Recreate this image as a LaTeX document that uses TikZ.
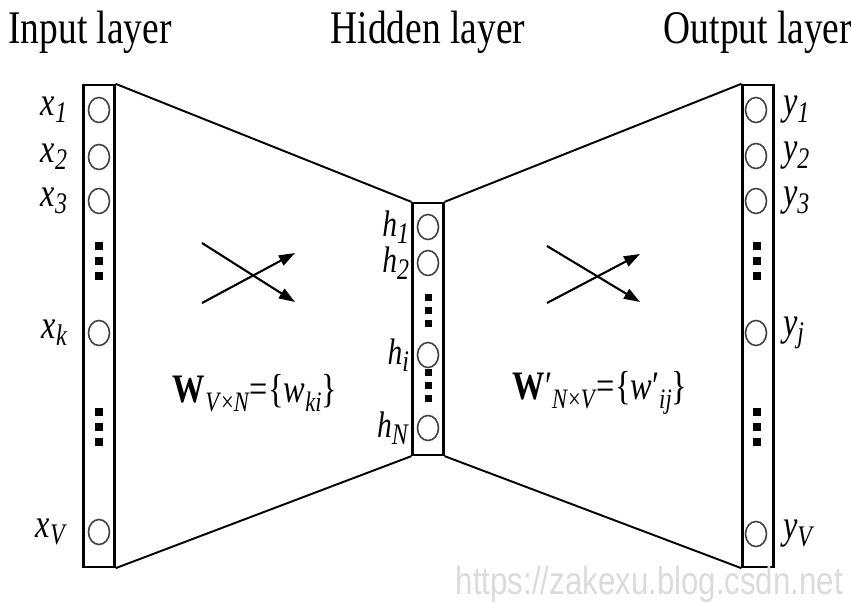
\documentclass[tikz,border=0pt]{standalone}
\usepackage{fontspec}
\setmainfont{Liberation Serif}[FakeStretch=0.8]
\newfontfamily\wmfont{Liberation Sans}[FakeStretch=0.8]
\usetikzlibrary{arrows.meta, positioning, shapes.geometric}

% italic letter with a lowered index
\newcommand{\nodelbl}[2]{\textit{#1}\raisebox{-0.4ex}{\fontsize{8.5}{9}\selectfont\textit{#2}}}
\newcommand{\lowidx}[1]{\raisebox{-0.5ex}{\fontsize{8}{9}\selectfont #1}}

\begin{document}
\begin{tikzpicture}[x=0.01cm, y=-0.01cm,
  layer/.style={draw, line width=0.6pt, minimum width=0.31cm, inner sep=0},
  unit/.style={ellipse, draw=black!75, line width=0.45pt, minimum width=0.21cm,
               minimum height=0.25cm, inner sep=0},
  lab/.style={inner sep=0, font=\fontsize{11.5}{12}\selectfont},
  hlab/.style={inner sep=0, font=\fontsize{10.5}{11}\selectfont},
  title/.style={anchor=base, inner sep=0, font=\fontsize{13.3}{14}\selectfont},
  edge/.style={line width=0.55pt},
  arr/.style={-{Triangle[length=0.16cm, width=0.11cm]}, line width=0.6pt}
]
\useasboundingbox (0,0) rectangle (851,603);

% titles
\node[title] (tin)  at (90,43)  {Input layer};
\node[title] (thid) at (428,43) {Hidden layer};
\node[title] (tout) at (758,43) {Output layer};

% layers
\node[layer, minimum height=4.82cm] (in)  at (99,326)  {};
\node[layer, minimum height=2.52cm] (hid) at (428,329) {};
\node[layer, minimum height=4.82cm] (out) at (758,326) {};

% units and their names
\foreach \n/\y in {1/110, 2/157, 3/201, k/333, V/532} {
  \node[unit] (x\n) at (99,\y) {};
  \node[lab, left=0.2cm of x\n] (lx\n) {\nodelbl{x}{\n}};
}
\foreach \n/\y in {1/227, 2/263, i/355, N/428} {
  \node[unit] (h\n) at (428,\y) {};
  \node[hlab, left=0.07cm of h\n] (lh\n) {\nodelbl{h}{\n}};
}
\foreach \n/\y in {1/110, 2/156, 3/201, j/333, V/534} {
  \node[unit] (y\n) at (756,\y) {};
  \node[lab, right=0.15cm of y\n] (ly\n) {\nodelbl{y}{\n}};
}

% vertical dots
\foreach \y in {246,261,276,412,427,442} {
  \fill (95,\y-4) rectangle ++(8,8);
  \fill (753,\y-4) rectangle ++(8,8);
}
\foreach \y in {297,310,323,372,385,398}
  \fill (425,\y-3.5) rectangle ++(7,7);

% connections between layers
\draw[edge] (in.north east) -- (hid.north west);
\draw[edge] (in.south east) -- (hid.south west);
\draw[edge] (hid.north east) -- (out.north west);
\draw[edge] (hid.south east) -- (out.south west);

% crossing arrows
\coordinate (a1) at (202,243); \coordinate (b1) at (295,302);
\coordinate (a2) at (202,303); \coordinate (b2) at (295,253);
\coordinate (a3) at (547,246); \coordinate (b3) at (640,302);
\coordinate (a4) at (547,303); \coordinate (b4) at (640,254);
\draw[arr] (a1) -- (b1);
\draw[arr] (a2) -- (b2);
\draw[arr] (a3) -- (b3);
\draw[arr] (a4) -- (b4);

% weight matrices
\node[lab] (win) at (255,393)
  {\textbf{W}\lowidx{\textit{V}×\textit{N}}=\{\textit{w}\lowidx{\textit{ki}}\}};
\node[lab] (wout) at (600,393)
  {\textbf{W}′\lowidx{\textit{N}×\textit{V}}=\{\textit{w}′\lowidx{\textit{ij}}\}};

% watermark
\node[anchor=base west, inner sep=0, text=black!14,
      font=\wmfont\fontsize{11.1}{12}\selectfont] (wm) at (455,594)
  {https://zakexu.blog.csdn.net};
\end{tikzpicture}
\end{document}
